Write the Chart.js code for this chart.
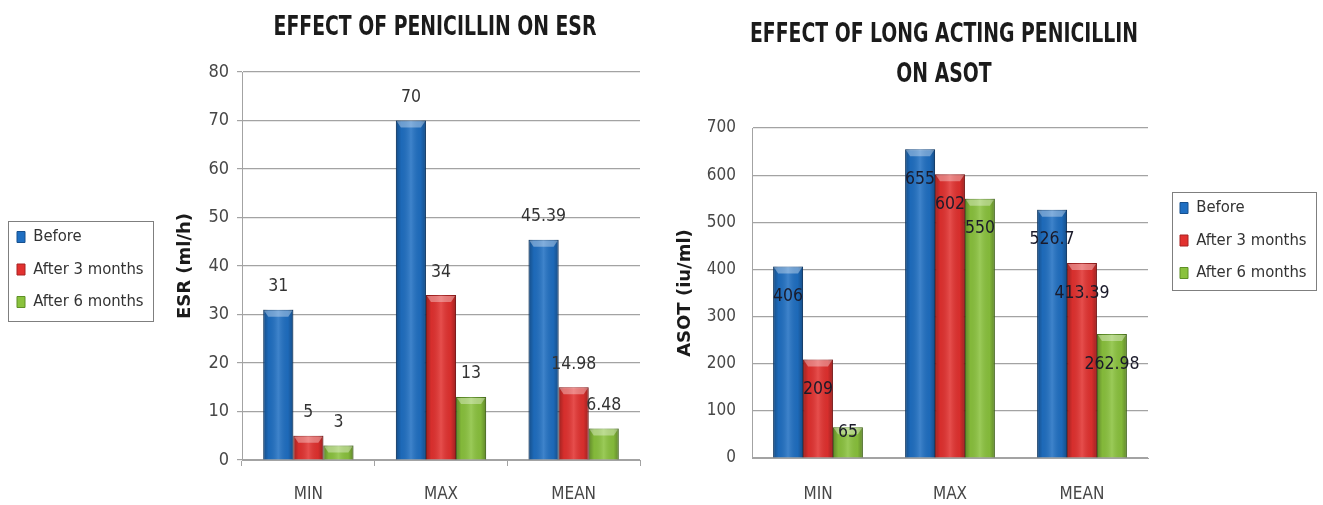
<!DOCTYPE html>
<html>
<head>
<meta charset="utf-8">
<title>Effect of penicillin on ESR and ASOT</title>
<script src="https://cdn.jsdelivr.net/npm/chart.js@4/dist/chart.umd.min.js"></script>
<style>
  html, body { margin: 0; padding: 0; background: #ffffff; }
  #wrap { position: relative; width: 1323px; height: 505px; overflow: hidden; }
  #esr { position: absolute; left: 0; top: 0; }
  #asot { position: absolute; left: 660px; top: 0; }
</style>
</head>
<body>
<div id="wrap">
  <canvas id="esr" width="660" height="505"></canvas>
  <canvas id="asot" width="663" height="505"></canvas>
</div>
<script>
// ---- data ----
const categories = ['MIN', 'MAX', 'MEAN'];
const seriesNames = ['Before', 'After 3 months', 'After 6 months'];

const esrBefore = [31, 70, 45.39];
const esrAfter3 = [5, 34, 14.98];
const esrAfter6 = [3, 13, 6.48];

const asotBefore = [406, 655, 526.7];
const asotAfter3 = [209, 602, 413.39];
const asotAfter6 = [65, 550, 262.98];

const esrTitle = ['EFFECT OF PENICILLIN ON ESR'];
const asotTitle = ['EFFECT OF LONG ACTING PENICILLIN', 'ON ASOT'];

// ---- look ----
const FONT = "'DejaVu Sans Condensed', 'Liberation Sans Narrow', 'Liberation Sans', sans-serif";
const AXIS_FONT = "'DejaVu Sans', 'Liberation Sans', sans-serif";
const fills   = ['#1f6fc2', '#e2312f', '#8ac23d'];
const borders = ['#17508e', '#a82222', '#5e9026'];
const GRID = '#a3a3a3';
const TEXT = '#474747';

// Chart heading, centred over the plot area and drawn narrow.
const headline = {
  id: 'headline',
  afterDraw(chart, args, opts) {
    const ctx = chart.ctx;
    const ca = chart.chartArea;
    const cx = (ca.left + ca.right) / 2 + opts.dx;
    ctx.save();
    ctx.font = 'bold ' + opts.size + 'px ' + FONT;
    ctx.fillStyle = '#1b1b1b';
    ctx.textAlign = 'center';
    ctx.textBaseline = 'alphabetic';
    opts.lines.forEach((t, i) => {
      const w = ctx.measureText(t).width;
      ctx.fillText(t, cx, opts.baseline + i * opts.lineGap, w * opts.squeeze);
    });
    ctx.restore();
  }
};

// Glossy shading over each bar: darker edges, lighter middle, bevelled top.
const barShade = {
  id: 'barShade',
  afterDatasetsDraw(chart) {
    const ctx = chart.ctx;
    ctx.save();
    chart.data.datasets.forEach((ds, di) => {
      chart.getDatasetMeta(di).data.forEach(bar => {
        const { x, y, base, width } = bar.getProps(['x', 'y', 'base', 'width'], true);
        const l = x - width / 2, r = x + width / 2, h = base - y;
        if (h <= 0) return;
        const g = ctx.createLinearGradient(l, 0, r, 0);
        g.addColorStop(0, 'rgba(0,0,0,0.30)');
        g.addColorStop(0.18, 'rgba(0,0,0,0.05)');
        g.addColorStop(0.5, 'rgba(255,255,255,0.14)');
        g.addColorStop(0.82, 'rgba(0,0,0,0.05)');
        g.addColorStop(1, 'rgba(0,0,0,0.30)');
        ctx.fillStyle = g;
        ctx.fillRect(l, y, width, h);
        const cap = Math.min(7, h / 2);
        ctx.beginPath();
        ctx.moveTo(l + 1, y + 1);
        ctx.lineTo(r - 1, y + 1);
        ctx.lineTo(r - 5, y + cap);
        ctx.lineTo(l + 5, y + cap);
        ctx.closePath();
        ctx.fillStyle = 'rgba(255,255,255,0.35)';
        ctx.fill();
      });
    });
    ctx.restore();
  }
};

// Value printed for every bar, either above the bar or inside its top.
const valueLabels = {
  id: 'valueLabels',
  afterDatasetsDraw(chart, args, opts) {
    const ctx = chart.ctx;
    ctx.save();
    ctx.font = opts.size + 'px ' + FONT;
    ctx.fillStyle = opts.color;
    ctx.textAlign = 'center';
    ctx.textBaseline = 'middle';
    chart.data.datasets.forEach((ds, di) => {
      chart.getDatasetMeta(di).data.forEach((bar, i) => {
        const { x, y, base } = bar.getProps(['x', 'y', 'base'], true);
        const ty = opts.inside ? Math.min(y + opts.offset, base - opts.minGap) : y - opts.offset;
        ctx.fillText(String(ds.data[i]), x, ty);
      });
    });
    ctx.restore();
  }
};

// Moves the legend block, widens its clip box and frames its entries.
const legendFrame = {
  id: 'legendFrame',
  afterLayout(chart, args, opts) {
    const lg = chart.legend;
    lg.left += opts.dx;
    lg.right = lg.left + opts.clipWidth;
    lg.width = opts.clipWidth;
    lg.top += opts.dy;
    lg.bottom += opts.dy;
  },
  afterDraw(chart, args, opts) {
    const lg = chart.legend;
    const lab = chart.options.plugins.legend.labels;
    const pad = lab.padding;
    const itemH = Math.max(lab.font.size, lab.boxHeight);
    const n = chart.data.datasets.length;
    const firstTop = ((lg.top + pad) + (lg.bottom - n * (itemH + pad))) / 2;
    const lastBottom = firstTop + (n - 1) * (itemH + pad) + itemH;
    const ctx = chart.ctx;
    ctx.save();
    ctx.strokeStyle = '#7f7f7f';
    ctx.lineWidth = 1;
    const left = Math.round(lg.left + pad - opts.inset) + 0.5;
    const top = Math.round(firstTop - opts.above) + 0.5;
    const bottom = Math.round(lastBottom + opts.below) + 0.5;
    ctx.strokeRect(left, top, opts.width, bottom - top);
    ctx.restore();
  }
};

function makeDatasets(values) {
  return values.map((v, i) => ({
    label: seriesNames[i],
    data: v,
    backgroundColor: fills[i],
    borderColor: borders[i],
    borderWidth: 1,
    barPercentage: 1.0,
    categoryPercentage: 0.68
  }));
}

function makeChart(canvas, cfg) {
  return new Chart(canvas, {
    type: 'bar',
    data: { labels: categories, datasets: makeDatasets(cfg.values) },
    plugins: [barShade, valueLabels, legendFrame, headline],
    options: {
      responsive: false,
      animation: false,
      devicePixelRatio: 1,
      layout: { padding: cfg.padding },
      plugins: {
        title: { display: false },
        headline: cfg.heading,
        legend: {
          position: cfg.legendPos,
          fullSize: false,
          maxWidth: 140,
          labels: {
            boxWidth: 8,
            boxHeight: 11,
            padding: 16,
            color: '#333333',
            font: { family: FONT, size: 16.5 }
          }
        },
        tooltip: { enabled: false },
        valueLabels: cfg.labels,
        legendFrame: cfg.frame
      },
      scales: {
        x: {
          afterFit: s => { s.height = cfg.xHeight; },
          grid: {
            display: true,
            drawOnChartArea: false,
            drawTicks: cfg.xTicks > 0,
            tickLength: cfg.xTicks,
            color: GRID
          },
          border: { display: true, color: GRID },
          ticks: { color: TEXT, font: { family: FONT, size: 17 }, padding: cfg.xPad }
        },
        y: {
          min: 0,
          max: cfg.max,
          afterFit: s => { s.width = cfg.yWidth; },
          ticks: { stepSize: cfg.step, color: TEXT, font: { family: FONT, size: cfg.tickSize }, padding: cfg.yPad },
          grid: { color: GRID, lineWidth: 1.2, drawTicks: cfg.yTicks > 0, tickLength: cfg.yTicks },
          border: { display: true, color: GRID },
          title: {
            display: true,
            text: cfg.yTitle,
            color: '#1a1a1a',
            font: { family: AXIS_FONT, size: 18, weight: 'bold' },
            padding: { top: cfg.yTitlePad, bottom: 0 }
          }
        }
      }
    }
  });
}

makeChart(document.getElementById('esr'), {
  values: [esrBefore, esrAfter3, esrAfter6],
  heading: { lines: esrTitle, size: 27, baseline: 35, lineGap: 40, squeeze: 0.775, dx: -6 },
  padding: { left: 1, right: 20, top: 72, bottom: 0 },
  legendPos: 'left',
  frame: { dx: 0, dy: 3.5, clipWidth: 160, inset: 9, above: 8, below: 11, width: 145 },
  labels: { inside: false, offset: 23, size: 17.5, color: '#333333' },
  max: 80, step: 10, tickSize: 18,
  yTitle: 'ESR (ml/h)', yTitlePad: 34,
  yWidth: 101, yTicks: 5, yPad: 8,
  xHeight: 45, xTicks: 6, xPad: 18
});

makeChart(document.getElementById('asot'), {
  values: [asotBefore, asotAfter3, asotAfter6],
  heading: { lines: asotTitle, size: 27, baseline: 42, lineGap: 40, squeeze: 0.775, dx: -6 },
  padding: { left: 0, right: 35, top: 128, bottom: 0 },
  legendPos: 'right',
  frame: { dx: 16, dy: -52.5, clipWidth: 158, inset: 8, above: 8, below: 9, width: 144 },
  labels: { inside: true, offset: 30, minGap: 25, size: 17.5, color: '#1a1a2a' },
  max: 700, step: 100, tickSize: 17,
  yTitle: 'ASOT (iu/ml)', yTitlePad: 15,
  yWidth: 92, yTicks: 0, yPad: 16,
  xHeight: 47, xTicks: 0, xPad: 26
});
</script>
</body>
</html>
